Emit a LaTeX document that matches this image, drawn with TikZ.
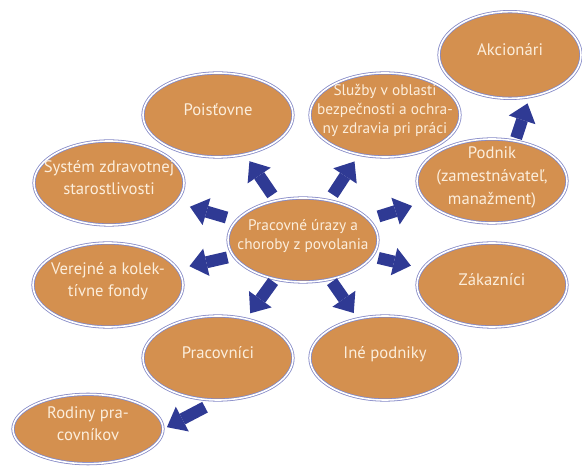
\documentclass[tikz,border=0pt]{standalone}
\usepackage{fontspec}
\setmainfont{PT Sans}
\usetikzlibrary{shapes.geometric}
\usetikzlibrary{arrows.meta}

\definecolor{bubble}{HTML}{D4904F}
\definecolor{ring}{HTML}{8489C6}
\definecolor{bubbletext}{HTML}{FCEEDC}
\definecolor{arrowblue}{HTML}{2F3A94}

% text box that does not blow up the ellipse
\newcommand{\ptext}[1]{\smash{\makebox[0pt]{\begin{tabular}{@{}c@{}}#1\end{tabular}}}}

\tikzset{
	party/.style={ellipse, fill=bubble, draw=ring, double=white, double distance=1.2pt,
		line width=0.6pt, minimum width=112.5pt, minimum height=63pt, inner sep=0pt,
		text=bubbletext, font=\fontsize{12.5}{17}\selectfont},
	smalltext/.style={font=\fontsize{11.5}{14.3}\selectfont},
	impact/.style={color=arrowblue, line width=9pt,
		-{Triangle[width=21pt,length=13pt,line width=0pt 0 0,fill=arrowblue]}}
}

\begin{document}
\begin{tikzpicture}[x=0.75pt,y=-0.75pt]
	\useasboundingbox (0,0) rectangle (582,466);
	\node[party, smalltext] (urazy) at (303,240) {\ptext{Pracovné úrazy a\\choroby z povolania}};
	\node[party] (poistovne) at (218,115) {\ptext{Poisťovne}};
	\node[party, smalltext] (sluzby) at (385,115) {\ptext{Služby v oblasti\\bezpečnosti a ochra-\\ny zdravia pri práci}};
	\node[party, minimum width=106.5pt, minimum height=65pt] (akcionari) at (510,55) {\ptext{Akcionári}};
	\node[party] (podnik) at (492,181) {\ptext{Podnik\\(zamestnávateľ,\\manažment)}};
	\node[party] (system) at (109,183) {\ptext{Systém zdravotnej\\starostlivosti}};
	\node[party] (fondy) at (108,285) {\ptext{Verejné a kolek-\\tívne fondy}};
	\node[party] (zakaznici) at (492,285) {\ptext{Zákazníci}};
	\node[party] (pracovnici) at (218,358) {\ptext{Pracovníci}};
	\node[party] (ine) at (385,358) {\ptext{Iné podniky}};
	\node[party, minimum height=52pt] (rodiny) at (88,429) {\ptext{Rodiny pra-\\covníkov}};

	\path[impact]
		(urazy) edge [shorten <=5pt, shorten >=6pt] (poistovne)
		(urazy) edge [shorten <=7.5pt, shorten >=11pt] (system)
		(urazy) edge [shorten <=4.5pt, shorten >=9pt] (fondy)
		(urazy) edge [shorten <=2pt, shorten >=5pt] (pracovnici)
		(urazy) edge [shorten <=5pt, shorten >=6pt] (sluzby)
		(urazy) edge [shorten <=7.5pt, shorten >=11pt] (podnik)
		(urazy) edge [shorten <=4.5pt, shorten >=9pt] (zakaznici)
		(urazy) edge [shorten <=2pt, shorten >=5pt] (ine)
		(podnik.60) edge [shorten <=2pt, shorten >=5pt] (akcionari.-65)
		(pracovnici.south) edge [shorten <=11pt, shorten >=3pt] (rodiny.east);
\end{tikzpicture}
\end{document}
